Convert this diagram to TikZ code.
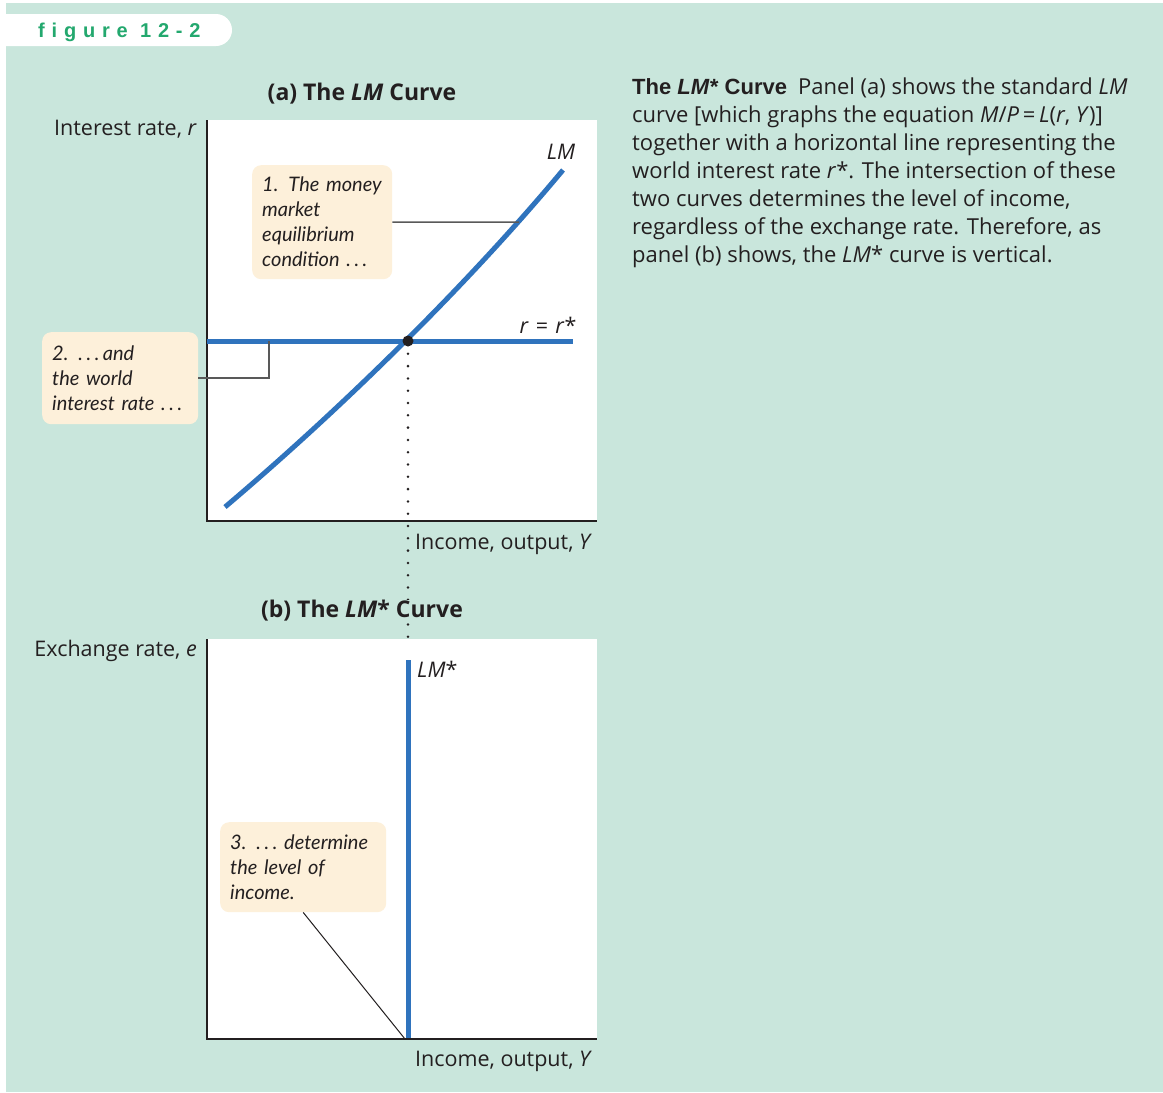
\documentclass[tikz,border=0pt]{standalone}
\usepackage{fontspec}
\setmainfont{Lato}
\newfontfamily\bodyfont{Open Sans}
\newfontfamily\headfont{Liberation Sans}
\newfontfamily\tabfont[LetterSpace=34]{Liberation Sans}
\usetikzlibrary{positioning}

\definecolor{bgmint}{RGB}{201,230,220}
\definecolor{tabgreen}{RGB}{35,168,110}
\definecolor{cream}{RGB}{253,240,218}
\definecolor{lmblue}{RGB}{47,115,189}
\definecolor{ink}{RGB}{35,31,32}

\newcommand\ddd{.\kern3.5pt.\kern3.5pt.}

\tikzset{
  callout/.style={anchor=north west, fill=cream, rounded corners=9pt, align=left,
    inner xsep=10pt, inner ysep=6pt, text=ink,
    font=\fontsize{20}{25}\selectfont\itshape},
  curve/.style={line width=5pt, lmblue},
  axis/.style={line width=1.5pt, ink},
  leader/.style={line width=1.5pt, black!65},
  lbl/.style={inner sep=0pt, text=ink, font=\fontsize{21.5}{24}\bodyfont},
  paneltitle/.style={inner sep=0pt, text=ink, font=\fontsize{23}{26}\bodyfont\bfseries}
}

\begin{document}
\begin{tikzpicture}[x=1pt,y=-1pt]
\useasboundingbox (0,0) rectangle (1163,1093);
% background and tab
\fill[bgmint] (6,3) rectangle (1163,1092);
\fill[white, rounded corners=16pt] (-20,14) rectangle (232,46);
\node[anchor=base west, inner sep=0pt, text=tabgreen, font=\fontsize{20}{22}\tabfont\bfseries]
  (tab) at (38,37) {figure 12-2};

% panel (a)
\fill[white] (207,120) rectangle (597,521);
\node[paneltitle, anchor=base] (titlea) at (362,100) {(a) The \textit{LM} Curve};
\node[lbl, anchor=base east] (ylaba) at (197,135) {Interest rate, \textit{r}};
\draw[axis] (207,120) -- (207,521) -- (597,521);

\coordinate (eq) at (408,341);
\coordinate (lmpt) at (519,222);
\coordinate (rpt) at (269,341);
\draw[curve] (207,341) -- (573,341);
\draw[curve] (225,507) .. controls (335,414) and (463,290) .. (563,170);
\node[lbl] (lmlab) at (561,152) {\textit{LM}};
\node[lbl] (rlab) at (548,325) {\textit{r}\,\,=\,\,\textit{r}*};

\node[callout, text width=120pt, minimum height=114pt] (note1) at (252,165)
  {1. The money\\market\\equilibrium\\condition \ddd};
\node[callout, text width=136pt, minimum height=92pt] (note2) at (42,332)
  {2. \ddd\,and\\the world\\interest rate \ddd};
\draw[leader] (note1.east) -- (lmpt);
\draw[leader] (note2.east) -| (rpt);

% dotted drop line
\foreach \k in {0,...,24}
  \fill[ink] (408,{649-12.3*\k}) circle (1.4pt);
\fill[ink] (eq) circle (5.5pt);
\node[lbl, anchor=base west] (xlaba) at (415,549) {Income, output, \textit{Y}};

% panel (b)
\fill[white] (207,639) rectangle (597,1039);
\node[paneltitle, anchor=base, fill=bgmint] (titleb) at (362,617) {(b) The \textit{LM}* Curve};
\node[lbl, anchor=base east] (ylabb) at (197,656) {Exchange rate, \textit{e}};
\node[lbl, anchor=base west] (xlabb) at (415,1066) {Income, output, \textit{Y}};
\coordinate (lmstop) at (408,660);
\coordinate (lmsbot) at (408,1039);
\draw[curve] (lmstop) -- (lmsbot);
\draw[axis] (207,639) -- (207,1039) -- (597,1039);
\node[lbl, anchor=west] (lmslab) at (417,669) {\textit{LM}*};

\node[callout, text width=146pt, minimum height=90pt] (note3) at (220,822)
  {3. \ddd\ determine\\the level of\\income.};
\coordinate (lmsfoot) at (405,1039);
\draw[line width=1pt, ink] (note3.south) -- (lmsfoot);

% caption
\node[anchor=north west, inner sep=0pt, align=left, text=ink,
  font=\fontsize{22}{28}\bodyfont] (caption) at (632,78)
  {{\headfont\bfseries The \textit{LM*} Curve}\enspace Panel (a) shows the standard \textit{LM}\\
   curve [which graphs the equation \textit{M}/\textit{P}\,=\,\textit{L}(\textit{r}, \textit{Y})]\\
   together with a horizontal line representing the\\
   world interest rate \textit{r}*. The intersection of these\\
   two curves determines the level of income,\\
   regardless of the exchange rate. Therefore, as\\
   panel (b) shows, the \textit{LM}* curve is vertical.};
\end{tikzpicture}
\end{document}
